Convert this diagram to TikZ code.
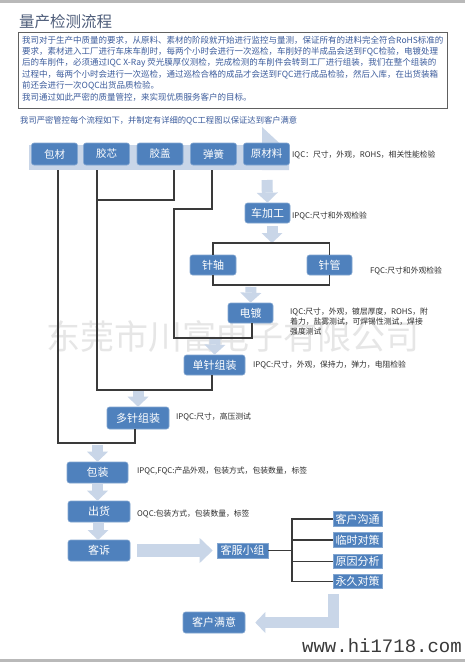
\documentclass[tikz,border=0pt]{standalone}
\usepackage{fontspec}
\setmainfont{Noto Sans CJK SC}
\newfontfamily\wwwfont{Liberation Mono}
\usetikzlibrary{arrows.meta}
\definecolor{boxblue}{HTML}{4F81BD}
\definecolor{arrowblue}{HTML}{C9D6E8}
\definecolor{txtblue}{HTML}{3C5C9C}
\definecolor{titlecol}{HTML}{4E5D7A}
\definecolor{linegray}{HTML}{3A3A3A}
\definecolor{notegray}{HTML}{2E2E2E}
\definecolor{wmark}{HTML}{E6E6E6}
\begin{document}
\begin{tikzpicture}[x=1pt,y=-1pt,
  box/.style={fill=boxblue, draw=boxblue!70!white, line width=0.6pt, rounded corners=2.5pt, text=white, font=\fontsize{11}{12}\selectfont, inner sep=0pt, minimum height=21pt},
  toprow/.style={box, minimum width=46pt, minimum height=22pt, font=\fontsize{10.5}{12}\selectfont},
  sqbox/.style={box, rounded corners=0pt, minimum height=14.5pt, minimum width=49pt},
  conn/.style={draw=linegray, line width=1.1pt},
  blk/.style={draw=arrowblue, line width=11pt, -{Triangle[width=21pt,length=10pt,line width=0pt]}},
  note/.style={anchor=west, inner sep=0pt, text=notegray, font=\fontsize{7.8}{10}\selectfont},
  para/.style={anchor=west, inner sep=0pt, text=txtblue, font=\fontsize{8.5}{10}\selectfont},
]
\useasboundingbox (0,0) rectangle (465,662);
\fill[white] (0,0) rectangle (465,662);
\fill[gray!55] (0,0) rectangle (465,3);
\fill[gray!55] (0,659) rectangle (465,662);

% watermark
\node[font=\fontsize{34}{34}\selectfont, text=wmark, inner sep=0pt] (wm) at (233,337) {东莞市川富电子有限公司};

% title and paragraph
\node[anchor=west, inner sep=0pt, text=titlecol, font=\fontsize{15.5}{16}\selectfont] (title) at (19,22) {量产检测流程};
\node[draw=gray!75!black, line width=1.2pt, fill=white, minimum width=429pt, minimum height=76pt, anchor=north west, inner sep=0pt] (parabox) at (18,32) {};
\node[para] (p1) at (22,40) {我司对于生产中质量的要求，从原料、素材的阶段就开始进行监控与量测，保证所有的进料完全符合RoHS标准的};
\node[para] (p2) at (22,51.5) {要求，素材进入工厂进行车床车削时，每两个小时会进行一次巡检，车削好的半成品会送到FQC检验，电镀处理};
\node[para] (p3) at (22,63) {后的车削件，必须通过IQC X-Ray 荧光膜厚仪测检，完成检测的车削件会转到工厂进行组装，我们在整个组装的};
\node[para] (p4) at (22,74.5) {过程中，每两个小时会进行一次巡检，通过巡检合格的成品才会送到FQC进行成品检验，然后入库，在出货装箱};
\node[para] (p5) at (22,86) {前还会进行一次OQC出货品质检验。};
\node[para] (p6) at (22,97.5) {我司通过如此严密的质量管控，来实现优质服务客户的目标。};
\node[para, font=\fontsize{8.3}{10}\selectfont] (sub) at (20,121) {我司严密管控每个流程如下，并制定有详细的QC工程图以保证达到客户满意};

% band behind top row, with its bent head
\node[fill=arrowblue, minimum width=258pt, minimum height=25pt, inner sep=0pt] (band) at (158,157.5) {};
\fill[arrowblue] (262,127) -- (289,152) -- (289,170) -- (262,170) -- cycle;

% node definitions
\node[toprow] (bc) at (54.5,154) {包材};
\node[toprow] (jx) at (106.5,154) {胶芯};
\node[toprow] (jg) at (160,154) {胶盖};
\node[toprow] (th) at (213.5,154) {弹簧};
\node[toprow] (ycl) at (266.5,154) {原材料};
\node[box, minimum width=45pt, minimum height=20pt] (cj) at (267.5,213) {车加工};
\node[box, minimum width=46pt, minimum height=20pt] (zz) at (213,265) {针轴};
\node[box, minimum width=45pt, minimum height=20pt] (zg) at (329.5,265) {针管};
\node[box, minimum width=45pt, minimum height=20pt] (dd) at (250.5,313) {电镀};
\node[box, minimum width=61pt, minimum height=20pt] (sz) at (214.5,365) {单针组装};
\node[box, minimum width=62pt, minimum height=22pt] (dz) at (138,418) {多针组装};
\node[box, minimum width=61pt] (bz) at (97.5,472.5) {包装};
\node[box, minimum width=62pt] (ch) at (99,511.5) {出货};
\node[box, minimum width=62pt] (ks) at (99,550.5) {客诉};
\node[sqbox, minimum width=51pt, minimum height=15pt] (kf) at (242.5,550.5) {客服小组};
\node[sqbox] (k1) at (357.5,519) {客户沟通};
\node[sqbox] (k2) at (357.5,540) {临时对策};
\node[sqbox] (k3) at (357.5,561.5) {原因分析};
\node[sqbox] (k4) at (357.5,581.5) {永久对策};
\node[box, minimum width=62pt] (km) at (214,622.5) {客户满意};

% block arrows
\draw[blk] (267,180) -- (cj.north);
\draw[blk] (272,226) -- (272,243);
\draw[blk] (251,287) -- (dd.north);
\draw[blk] (215,337) -- (sz.north);
\draw[blk] (138,391) -- (dz.north);
\draw[blk] (97.5,445) -- (bz.north);
\draw[blk] (bz.south) -- (bz.south |- ch.north);
\draw[blk] (98,522) -- (98,540);
\draw[blk, line width=13pt, -{Triangle[width=25pt,length=13pt,line width=0pt]}] ([xshift=7pt]ks.east) -- ([xshift=-4pt]kf.west);
\draw[blk, line width=11pt, line join=miter] (333,594) |- ([xshift=10pt]km.east);

% connectors
\draw[conn] (58,0 |- band.south) -- (58,443) -- (135,443) -- (135,0 |- dz.south);
\draw[conn] (97,0 |- band.south) -- (97,390) -- (212,390) -- (212,0 |- sz.south);
\draw[conn] (174,0 |- band.south) -- (174,200) -- (97,200);
\draw[conn] (212,0 |- band.south) -- (212,209) -- (174,209) -- (174,338) -- (252,338) -- (252,0 |- dd.south);
\draw[conn] (zz.north) |- (271,243) -| (zg.north);
\draw[conn] (zz.south) |- (271,285) -| (zg.south);
\draw[conn] (kf.east) -- (292,0 |- kf.east) coordinate (hub);
\draw[conn] (k1.west) -| (hub) |- (k4.west);
\draw[conn] (k2.west) -- (k2.west -| hub);
\draw[conn] (k3.west) -- (k3.west -| hub);

% notes
\node[note] (n1) at (292,155) {IQC：尺寸，外观，ROHS，相关性能检验};
\node[note] (n2) at (292,216) {IPQC:尺寸和外观检验};
\node[note] (n3) at (370,271) {FQC:尺寸和外观检验};
\node[note, anchor=north west, align=left, font=\fontsize{7.8}{10}\selectfont] (n4) at (290,307.5) {IQC:尺寸，外观，镀层厚度，ROHS，附\\着力，盐雾测试，可焊锡性测试，焊接\\强度测试};
\node[note] (n5) at (253,365) {IPQC:尺寸，外观，保持力，弹力，电阻检验};
\node[note] (n6) at (176,417) {IPQC:尺寸，高压测试};
\node[note] (n7) at (137,471) {IPQC,FQC:产品外观，包装方式，包装数量，标签};
\node[note] (n8) at (137,514) {OQC:包装方式，包装数量，标签};

\node[anchor=east, inner sep=0pt, text=gray!45!black, font=\wwwfont\fontsize{19}{20}\selectfont] (www) at (462,646) {www.hi1718.com};
\end{tikzpicture}
\end{document}
